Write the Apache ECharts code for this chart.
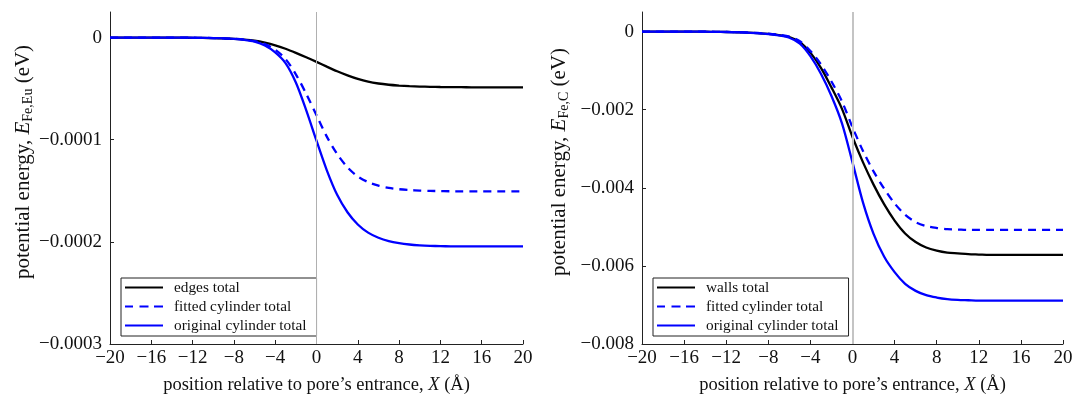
<!DOCTYPE html>
<html>
<head>
<meta charset="utf-8">
<script src="https://cdn.jsdelivr.net/npm/echarts@6/dist/echarts.min.js"></script>
<style>
html,body{margin:0;padding:0;background:#fff;}
#c{width:1073px;height:395px;}
</style>
</head>
<body>
<div id="c"></div>
<script>
// ---- data ----
const xs = [-20,-19,-18,-17,-16,-15,-14,-13,-12,-11,-10,-9,-8,-7,-6,-5,-4,-3,-2,-1,0,1,2,3,4,5,6,7,8,9,10,11,12,13,14,15,16,17,18,19,20];

// left panel (E_Fe,Eu, eV)
const edgesTotal = [0,0,0,0,0,-0.05e-6,-0.1e-6,-0.15e-6,-0.25e-6,-0.4e-6,-0.6e-6,-0.9e-6,-1.3e-6,-2.0e-6,-3.1e-6,-5.0e-6,-7.6e-6,-11.0e-6,-15.0e-6,-19.3e-6,-23.8e-6,-28.5e-6,-33.0e-6,-37.0e-6,-40.5e-6,-43.2e-6,-45.0e-6,-46.2e-6,-47.0e-6,-47.6e-6,-48.0e-6,-48.2e-6,-48.4e-6,-48.5e-6,-48.6e-6,-48.7e-6,-48.7e-6,-48.7e-6,-48.7e-6,-48.7e-6,-48.7e-6];
const fittedLeft = [0,0,0,0,0,-0.05e-6,-0.1e-6,-0.15e-6,-0.2e-6,-0.3e-6,-0.5e-6,-0.8e-6,-1.2e-6,-2.0e-6,-3.5e-6,-6.5e-6,-12e-6,-21e-6,-36e-6,-55e-6,-76e-6,-97e-6,-114e-6,-127e-6,-136e-6,-141.5e-6,-145e-6,-147.2e-6,-148.5e-6,-149.3e-6,-149.8e-6,-150.1e-6,-150.3e-6,-150.5e-6,-150.5e-6,-150.5e-6,-150.5e-6,-150.5e-6,-150.5e-6,-150.5e-6,-150.5e-6];
const originalLeft = [0,0,0,0,0,-0.05e-6,-0.1e-6,-0.15e-6,-0.2e-6,-0.3e-6,-0.5e-6,-0.8e-6,-1.3e-6,-2.2e-6,-4.0e-6,-7.8e-6,-14.5e-6,-25e-6,-44e-6,-71e-6,-101e-6,-130e-6,-154e-6,-171e-6,-183e-6,-191e-6,-196e-6,-199.3e-6,-201.3e-6,-202.6e-6,-203.4e-6,-203.9e-6,-204.2e-6,-204.4e-6,-204.5e-6,-204.5e-6,-204.5e-6,-204.5e-6,-204.5e-6,-204.5e-6,-204.5e-6];

// right panel (E_Fe,C, eV)
const wallsTotal = [0,0,0,0,-0.002e-3,-0.003e-3,-0.005e-3,-0.008e-3,-0.012e-3,-0.018e-3,-0.027e-3,-0.04e-3,-0.06e-3,-0.09e-3,-0.14e-3,-0.27e-3,-0.54e-3,-0.93e-3,-1.43e-3,-1.98e-3,-2.70e-3,-3.35e-3,-3.92e-3,-4.42e-3,-4.84e-3,-5.17e-3,-5.39e-3,-5.53e-3,-5.61e-3,-5.66e-3,-5.68e-3,-5.70e-3,-5.71e-3,-5.72e-3,-5.72e-3,-5.72e-3,-5.72e-3,-5.72e-3,-5.72e-3,-5.72e-3,-5.72e-3];
const fittedRight = [0,0,0,0,-0.002e-3,-0.003e-3,-0.005e-3,-0.007e-3,-0.011e-3,-0.016e-3,-0.025e-3,-0.038e-3,-0.057e-3,-0.085e-3,-0.13e-3,-0.25e-3,-0.50e-3,-0.84e-3,-1.28e-3,-1.79e-3,-2.45e-3,-3.06e-3,-3.58e-3,-4.02e-3,-4.40e-3,-4.69e-3,-4.88e-3,-4.98e-3,-5.03e-3,-5.06e-3,-5.07e-3,-5.08e-3,-5.08e-3,-5.08e-3,-5.08e-3,-5.08e-3,-5.08e-3,-5.08e-3,-5.08e-3,-5.08e-3,-5.08e-3];
const originalRight = [0,0,0,0,-0.002e-3,-0.003e-3,-0.005e-3,-0.008e-3,-0.012e-3,-0.018e-3,-0.028e-3,-0.042e-3,-0.065e-3,-0.10e-3,-0.16e-3,-0.31e-3,-0.63e-3,-1.08e-3,-1.65e-3,-2.35e-3,-3.35e-3,-4.38e-3,-5.18e-3,-5.76e-3,-6.16e-3,-6.46e-3,-6.64e-3,-6.75e-3,-6.81e-3,-6.85e-3,-6.87e-3,-6.88e-3,-6.89e-3,-6.89e-3,-6.89e-3,-6.89e-3,-6.89e-3,-6.89e-3,-6.89e-3,-6.89e-3,-6.89e-3];

const xTicks = [-20,-16,-12,-8,-4,0,4,8,12,16,20];
const yTicksLeft = [-0.0003,-0.0002,-0.0001,0];
const yTicksRight = [-0.008,-0.006,-0.004,-0.002,0];

const xTitle = 'position relative to pore\u2019s entrance, {i|X} (\u00C5)';
const yTitleLeft = 'potential energy, {i|E}{s|Fe,Eu} (eV)';
const yTitleRight = 'potential energy, {i|E}{s|Fe,C} (eV)';
const legendLeft = ['edges total','fitted cylinder total','original cylinder total'];
const legendRight = ['walls total','fitted cylinder total','original cylinder total'];

// ---- chart ----
const FONT = '"Liberation Serif","DejaVu Serif",serif';
const INK = '#111';
const AXIS = '#222';
const fmt = v => (v < 0 ? '\u2212' + String(Math.abs(v)) : String(v));
const fmtFix = d => v => { if (Math.abs(v) < 1e-12) return '0'; const s = Math.abs(v).toFixed(d); return (v < 0 ? '\u2212' : '') + s; };

const pairs = arr => xs.map((x, i) => [x, arr[i]]);

const ICON_SOLID = 'path://M0,0h38v2.2h-38z';
const ICON_DASH = 'path://M0,0h8v2.2h-8z M14.5,0h9v2.2h-9z M29,0h9v2.2h-9z';

function xAxis(idx) {
  return {
    type: 'value', gridIndex: idx, min: -20, max: 20, interval: 4,
    axisLine: { show: true, onZero: false, lineStyle: { color: AXIS, width: 1 } },
    axisTick: { show: true, inside: true, length: 4, lineStyle: { color: AXIS } },
    splitLine: { show: false },
    axisLabel: { color: INK, fontFamily: FONT, fontSize: 19, margin: 5, formatter: fmt, customValues: xTicks },
    name: xTitle, nameLocation: 'middle', nameGap: 32,
    nameTextStyle: { color: INK, fontFamily: FONT, fontSize: 18.5,
      rich: { i: { fontStyle: 'italic', fontFamily: FONT, fontSize: 18.5, color: INK } } }
  };
}
function yAxis(idx, min, max, ticks, dec, title, gap) {
  return {
    type: 'value', gridIndex: idx, min: min, max: max,
    axisLine: { show: true, onZero: false, lineStyle: { color: AXIS, width: 1 } },
    axisTick: { show: true, inside: true, length: 4, lineStyle: { color: AXIS }, customValues: ticks },
    splitLine: { show: false },
    axisLabel: { color: INK, fontFamily: FONT, fontSize: 19, margin: 8, formatter: fmtFix(dec), customValues: ticks },
    name: title, nameLocation: 'middle', nameGap: gap,
    nameTextStyle: { color: INK, fontFamily: FONT, fontSize: 21, padding: [0, 0, 0, 32],
      rich: {
        i: { fontStyle: 'italic', fontFamily: FONT, fontSize: 21, color: INK },
        s: { fontFamily: FONT, fontSize: 14, color: INK, padding: [10, 0, 0, 0] }
      } }
  };
}
function legend(left, data) {
  return {
    left: left, top: 278, orient: 'vertical',
    data: data.map((n, i) => ({ name: n, icon: i === 1 ? ICON_DASH : ICON_SOLID })),
    itemWidth: 38, itemHeight: 14, itemGap: 4,
    padding: [2, 10, 3, 4],
    borderColor: AXIS, borderWidth: 1, backgroundColor: '#fff',
    selectedMode: false,
    textStyle: { color: INK, fontFamily: FONT, fontSize: 15.3, padding: [0, 0, 0, 6] }
  };
}
const vline = (w, c) => ({
  silent: true, symbol: 'none', label: { show: false },
  lineStyle: { color: c, width: w, type: 'solid' },
  emphasis: { disabled: true },
  data: [{ xAxis: 0 }]
});
function line(name, arr, xi, color, dashed, mark) {
  const s = {
    name: name, type: 'line', xAxisIndex: xi, yAxisIndex: xi,
    data: pairs(arr), showSymbol: false, symbol: 'none',
    smooth: 0.3, z: 3,
    lineStyle: { color: color, width: 2.3, type: dashed ? [8, 6] : 'solid' },
    itemStyle: { color: color }
  };
  if (mark) s.markLine = mark;
  return s;
}

const chart = echarts.init(document.getElementById('c'), null, { renderer: 'canvas' });
chart.setOption({
  animation: false,
  backgroundColor: '#fff',
  grid: [
    { left: 110, top: 12, width: 413, bottom: 51, containLabel: false, outerBoundsMode: 'none' },
    { left: 642, top: 12, width: 421, bottom: 51, containLabel: false, outerBoundsMode: 'none' }
  ],
  xAxis: [xAxis(0), xAxis(1)],
  yAxis: [
    yAxis(0, -0.0003, 0.000025, yTicksLeft, 4, yTitleLeft, 75),
    yAxis(1, -0.008, 0.0005, yTicksRight, 3, yTitleRight, 71)
  ],
  legend: [legend(121, legendLeft), legend(653, legendRight)],
  series: [
    line('edges total', edgesTotal, 0, '#000', false, vline(1, '#b0b0b0')),
    line('fitted cylinder total', fittedLeft, 0, '#0000ff', true),
    line('original cylinder total', originalLeft, 0, '#0000ff', false),
    line('walls total', wallsTotal, 1, '#000', false, vline(2, '#c4c4c4')),
    line('fitted cylinder total', fittedRight, 1, '#0000ff', true),
    line('original cylinder total', originalRight, 1, '#0000ff', false)
  ]
});
</script>
</body>
</html>
